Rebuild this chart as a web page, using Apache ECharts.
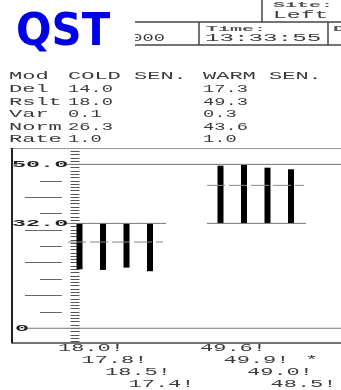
<!DOCTYPE html>
<html><head><meta charset="utf-8">
<script src="https://cdn.jsdelivr.net/npm/echarts@6/dist/echarts.min.js"></script>
<style>html,body{margin:0;padding:0;background:#fff}#c{width:341px;height:390px}</style>
</head><body><div id="c"></div>
<script>
// ---- data ----
const baseline = 32.0;
const coldValues = [18.0, 17.8, 18.5, 17.4];
const warmValues = [49.6, 49.9, 49.0, 48.5];
const warmFlags = ['', '*', '', ''];
const coldSlots = [0, 1, 2, 3];
const warmSlots = [6, 7, 8, 9];
const coldNorm = 26.3;
const warmNorm = 43.6;
const modeLabels = ['Mod', 'COLD SEN.', 'WARM SEN.'];
const statLabels = ['Del', 'Rslt', 'Var', 'Norm', 'Rate'];
const coldStats = ['14.0', '18.0', '0.1', '26.3', '1.0'];
const warmStats = ['17.3', '49.3', '0.3', '43.6', '1.0'];
const yTickLabels = [{v: 50, t: '50.0'}, {v: 32, t: '32.0'}, {v: 0, t: '0'}];
const longTicks = [10, 20, 30, 40];
const midTicks = [5, 15, 25, 35, 45];
const minorTicks = [];
for (let v = -4; v <= 54; v++) minorTicks.push(v);
const headerSite = 'Left';
const headerTime = '13:33:55';

// ---- layout ----
const Y_MIN = -4.5, Y_MAX = 55;
const X_MIN = -0.745, X_MAX = 11.128;
const MONO = '"Liberation Mono", monospace';
const TXT = '#3a3a3a';
const chart = echarts.init(document.getElementById('c'), null, {renderer: 'canvas'});

function tickAxis(len, vals, color) {
  return {type: 'value', min: Y_MIN, max: Y_MAX, position: 'left', offset: 0,
    axisLine: {show: false}, splitLine: {show: false}, axisLabel: {show: false},
    axisTick: {show: true, length: len, customValues: vals, lineStyle: {color: color, width: 1}}};
}

const barData = [];
coldValues.forEach((v, i) => barData.push([coldSlots[i], v, i]));
warmValues.forEach((v, i) => barData.push([warmSlots[i], v, i]));

chart.setOption({
  animation: false,
  grid: {left: 62, right: 0, top: 148, bottom: 47},
  xAxis: {type: 'value', min: X_MIN, max: X_MAX, show: false},
  yAxis: [tickAxis(9, minorTicks, '#555'), tickAxis(22, midTicks, '#666'), tickAxis(37, longTicks, '#666')],
  series: [{
    type: 'custom', yAxisIndex: 0, clip: false, z: 5,
    data: barData,
    renderItem: function (params, api) {
      const x = api.value(0), v = api.value(1);
      const a = api.coord([x, Math.max(v, baseline)]);
      const b = api.coord([x, Math.min(v, baseline)]);
      const w = 6;
      return {type: 'rect', shape: {x: a[0] - w / 2, y: a[1], width: w, height: b[1] - a[1]},
        style: {fill: '#000'}};
    }
  }]
});

function txt(str, x, y, o) {
  o = o || {};
  return {type: 'text', x: x, y: y, scaleX: o.sx || 2.0, scaleY: o.sy || 1, z: o.z || 10,
    style: {text: str, x: 0, y: 0, fill: o.fill || TXT,
      font: (o.weight || 'normal') + ' ' + (o.size || 11) + 'px ' + (o.family || MONO),
      textAlign: o.align || 'left', textVerticalAlign: 'middle'}};
}
function line(x1, y1, x2, y2, o) {
  o = o || {};
  return {type: 'line', z: o.z || 8, shape: {x1: x1, y1: y1, x2: x2, y2: y2},
    style: {stroke: o.color || '#666', lineWidth: o.w || 1, lineDash: o.dash || null}};
}

const py = v => chart.convertToPixel({yAxisIndex: 0}, v);
const px = s => chart.convertToPixel({xAxisIndex: 0}, s);

const g = [];
// header table
g.push(txt('2000', 120, 38, {sx: 1.7}));
g.push(line(135, 22, 341, 22, {color: '#444', w: 1.5}));
g.push(line(135, 45, 341, 45, {color: '#444', w: 1.5}));
g.push(line(262, 0, 262, 22, {color: '#444', w: 1.5}));
g.push(line(199, 22, 199, 45, {color: '#444', w: 1.5}));
g.push(line(328, 22, 328, 45, {color: '#444', w: 1.5}));
g.push(txt('Site:', 273, 5, {weight: 'bold', size: 8, sx: 2.5, fill: '#555'}));
g.push(txt(headerSite, 273, 15, {sx: 2.1}));
g.push(txt('Time:', 206, 28.5, {weight: 'bold', size: 8, sx: 2.5, fill: '#555'}));
g.push(txt(headerTime, 205, 38, {sx: 2.2}));
g.push(txt('Da', 333, 28.5, {weight: 'bold', size: 8, sx: 2.5, fill: '#555'}));
g.push({type: 'rect', z: 20, shape: {x: 0, y: 0, width: 135, height: 52}, style: {fill: '#fff'}});
g.push(txt('QST', 16, 34, {weight: 'bold', size: 44, sx: 0.95, fill: '#0000e6', family: '"DejaVu Sans", sans-serif', z: 21}));

// stats block
const rowsY = [89, 101.7, 114, 126.7, 139.3];
g.push(txt(modeLabels[0], 9, 75.7));
g.push(txt(modeLabels[1], 68, 75.7));
g.push(txt(modeLabels[2], 203, 75.7));
statLabels.forEach((s, i) => {
  g.push(txt(s, 9, rowsY[i]));
  g.push(txt(coldStats[i], 68, rowsY[i], {sx: 1.7}));
  g.push(txt(warmStats[i], 203, rowsY[i], {sx: 1.7}));
});

// frame
g.push(line(10, 148.5, 341, 148.5, {color: '#999', w: 1}));
g.push(line(12, 148, 12, 343.5, {color: '#222', w: 2}));
g.push(line(12, 343, 341, 343, {color: '#444', w: 1.5}));

// reference lines
const y50 = py(50), y32 = py(baseline), y0 = py(0);
g.push(line(65, y50, 341, y50, {color: '#777'}));
g.push(line(25, y0, 341, y0, {color: '#777'}));
g.push(line(65, y32, 166, y32, {color: '#777'}));
g.push(line(207, y32, 306, y32, {color: '#777'}));
g.push(line(68, py(coldNorm), 163, py(coldNorm), {color: '#888', dash: [18, 4]}));
g.push(line(207, py(warmNorm), 304, py(warmNorm), {color: '#888', dash: [18, 4]}));
yTickLabels.forEach(o => {
  g.push(txt(o.t, o.v === 0 ? 15 : 12, py(o.v), {weight: 'bold', size: 9, sx: 2.6, fill: '#222', z: 12}));
});

// bottom value list
const listY = [348, 360, 372.5, 384.5];
coldValues.forEach((v, i) => g.push(txt(v.toFixed(1) + '!', px(coldSlots[i]) - 21.5, listY[i])));
warmValues.forEach((v, i) => {
  g.push(txt(v.toFixed(1) + '!', px(warmSlots[i]) - 20.5, listY[i]));
  if (warmFlags[i]) g.push(txt(warmFlags[i], 305, listY[i]));
});

chart.setOption({graphic: {elements: g}});
</script></body></html>
